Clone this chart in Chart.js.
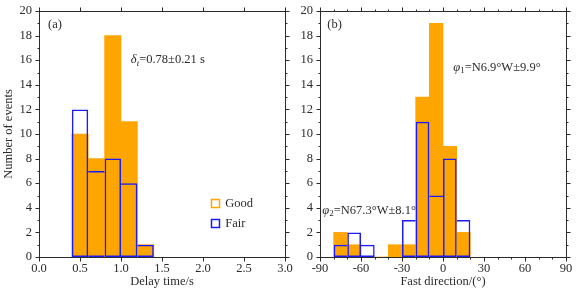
<!DOCTYPE html>
<html>
<head>
<meta charset="utf-8">
<script src="https://cdn.jsdelivr.net/npm/chart.js@4.4.1/dist/chart.umd.min.js"></script>
<style>
  body { margin: 0; background: #fff; }
  .panel { position: absolute; top: 0; }
</style>
</head>
<body>
<div style="position: relative; width: 578px; height: 293px;">
  <canvas id="delay" class="panel" style="left: 0px;" width="300" height="293"></canvas>
  <canvas id="dir" class="panel" style="left: 288px;" width="290" height="293"></canvas>
</div>
<script>
// bin starts and event counts
const delayBins = [0.4, 0.6, 0.8, 1.0, 1.2];
const delayGood = [10, 8, 18, 11, 1];
const delayFair = [12, 7, 8, 6, 1];
const delayWidth = 0.2;

const dirBins = [-80, -70, -60, -50, -40, -30, -20, -10, 0, 10];
const dirGood = [2, 1, 0, 0, 1, 1, 13, 19, 9, 2];
const dirFair = [1, 2, 1, 0, 0, 3, 11, 5, 8, 3];
const dirWidth = 10;

const countMax = 20;
const seriesNames = ['Good', 'Fair'];

const orange = '#ffa500';
const blue = '#1a1aff';
const ink = '#2b2b2b';
const family = '"Liberation Serif", "Times New Roman", serif';

// {{{ bins()
function bins(starts, counts, width)
{
  return starts.map((s, i) => ({x: s + width / 2, y: counts[i]}));
}
// }}}

// {{{ outline()
// a shared edge between two outlined bins is drawn once, by the taller one
function outline(c)
{
  const w = 1.5;
  const d = c.dataset.data;
  const i = c.dataIndex;
  const h = d[i] ? d[i].y : 0;
  const prev = i > 0 ? d[i - 1].y : 0;
  const next = i < d.length - 1 ? d[i + 1].y : 0;
  return {top: w, bottom: w, left: prev < h ? w : 0, right: next <= h ? w : 0};
}
// }}}

// {{{ framePlugin
const framePlugin =
{
  id: 'frame',
  afterDraw(chart, args, opts)
  {
    const {ctx, chartArea: a, scales: {x, y}} = chart;
    const px = (v) => Math.round(v) + 0.5;
    ctx.save();
    ctx.strokeStyle = ink;
    ctx.lineWidth = 1;
    ctx.strokeRect(px(a.left), px(a.top), Math.round(a.right) - Math.round(a.left), Math.round(a.bottom) - Math.round(a.top));
    const xTick = (v, len) =>
    {
      const p = px(x.getPixelForValue(v));
      ctx.moveTo(p, px(a.bottom)); ctx.lineTo(p, px(a.bottom) + len);
      ctx.moveTo(p, px(a.top)); ctx.lineTo(p, px(a.top) - len);
    };
    const yTick = (v, len) =>
    {
      const p = px(y.getPixelForValue(v));
      ctx.moveTo(px(a.left), p); ctx.lineTo(px(a.left) - len, p);
      ctx.moveTo(px(a.right), p); ctx.lineTo(px(a.right) + len, p);
    };
    ctx.beginPath();
    if (opts.xMinor)
    {
      for (let v = x.min; v <= x.max + 1e-9; v += opts.xMinor) xTick(v, 2);
    }
    for (let v = y.min; v <= y.max + 1e-9; v += opts.yMinor) yTick(v, 2);
    x.ticks.forEach((t) => xTick(t.value, 4));
    y.ticks.forEach((t) => yTick(t.value, 4));
    ctx.stroke();

    // notes in data coordinates
    ctx.fillStyle = ink;
    ctx.textBaseline = 'middle';
    (opts.notes || []).forEach((n) =>
    {
      let cx = x.getPixelForValue(n.x);
      const cy = y.getPixelForValue(n.y);
      n.parts.forEach((p) =>
      {
        const size = p.sub ? 9 : 12.5;
        ctx.font = (p.italic ? 'italic ' : '') + size + 'px ' + family;
        ctx.fillText(p.text, cx, cy + (p.sub ? 3 : 0));
        cx += ctx.measureText(p.text).width;
      });
    });

    // legend
    if (opts.legend)
    {
      const lg = opts.legend;
      chart.data.datasets.slice().sort((d1, d2) => seriesNames.indexOf(d1.label) - seriesNames.indexOf(d2.label)).forEach((d, i) =>
      {
        const lx = x.getPixelForValue(lg.x);
        const ly = y.getPixelForValue(lg.y - i * lg.step);
        ctx.lineWidth = 1.5;
        ctx.strokeStyle = d.label == 'Good' ? orange : blue;
        ctx.strokeRect(Math.round(lx) + 0.5, Math.round(ly - 4) + 0.5, 8, 8);
        ctx.font = '12.5px ' + family;
        ctx.fillText(d.label, lx + 14, ly + 0.5);
      });
    }
    ctx.restore();
  }
};
// }}}

// {{{ histogram()
function histogram(id, o)
{
  return new Chart(document.getElementById(id),
  {
    type: 'bar',
    data:
    {
      datasets:
      [
        {label: 'Fair', data: bins(o.bins, o.fair, o.width), backgroundColor: 'rgba(0,0,0,0)', borderColor: blue, borderWidth: outline, inflateAmount: 0, borderSkipped: false, grouped: false, order: 0, barPercentage: 1, categoryPercentage: 1},
        {label: 'Good', data: bins(o.bins, o.good, o.width), backgroundColor: orange, borderWidth: 0, grouped: false, order: 1, barPercentage: 1, categoryPercentage: 1}
      ]
    },
    options:
    {
      responsive: false,
      animation: false,
      layout: {padding: {left: 0, right: o.padRight, top: 11, bottom: 0}},
      plugins: {legend: {display: false}, tooltip: {enabled: false}, frame: o.frame},
      scales:
      {
        x:
        {
          type: 'linear', offset: false, min: o.min, max: o.max,
          grid: {display: false, drawTicks: false}, border: {display: false},
          ticks: {stepSize: o.step, autoSkip: false, maxRotation: 0, padding: 4, color: ink, font: {family: family, size: 12.5}, callback: o.label},
          title: {display: true, text: o.title, color: ink, font: {family: family, size: 12.5}, padding: {top: 0, bottom: 4}},
          afterFit: (s) => { s.height = 36; s.paddingLeft = 0; s.paddingRight = 0; }
        },
        y:
        {
          min: 0, max: countMax,
          grid: {display: false, drawTicks: false}, border: {display: false},
          ticks: {stepSize: 2, padding: 7, color: ink, font: {family: family, size: 12.5}},
          title: {display: o.yTitle != null, text: o.yTitle, color: ink, font: {family: family, size: 12.5}, padding: {top: 1.5, bottom: 0}},
          afterFit: (s) => { s.width = o.yWidth; s.paddingTop = 0; s.paddingBottom = 0; }
        }
      }
    },
    plugins: [framePlugin]
  });
}
// }}}

histogram('delay',
{
  bins: delayBins, good: delayGood, fair: delayFair, width: delayWidth,
  min: 0, max: 3, step: 0.5, label: (v) => Number(v).toFixed(1),
  title: 'Delay time/s', yTitle: 'Number of events', yWidth: 39, padRight: 15,
  frame:
  {
    yMinor: 1, xMinor: 0,
    legend: {x: 2.1, y: 4.4, step: 1.65},
    notes:
    [
      {x: 0.11, y: 18.9, parts: [{text: '(a)'}]},
      {x: 1.12, y: 16, parts: [{text: 'δ', italic: true}, {text: 't', italic: true, sub: true}, {text: '=0.78±0.21 s'}]}
    ]
  }
});

histogram('dir',
{
  bins: dirBins, good: dirGood, fair: dirFair, width: dirWidth,
  min: -90, max: 90, step: 30, label: (v) => String(v),
  title: 'Fast direction/(°)', yTitle: null, yWidth: 32, padRight: 12,
  frame:
  {
    yMinor: 1, xMinor: 10,
    notes:
    [
      {x: -84.7, y: 18.9, parts: [{text: '(b)'}]},
      {x: 7.5, y: 15.4, parts: [{text: 'φ', italic: true}, {text: '1', sub: true}, {text: '=N6.9°W±9.9°'}]},
      {x: -88.3, y: 3.8, parts: [{text: 'φ', italic: true}, {text: '2', sub: true}, {text: '=N67.3°W±8.1°'}]}
    ]
  }
});
</script>
</body>
</html>
